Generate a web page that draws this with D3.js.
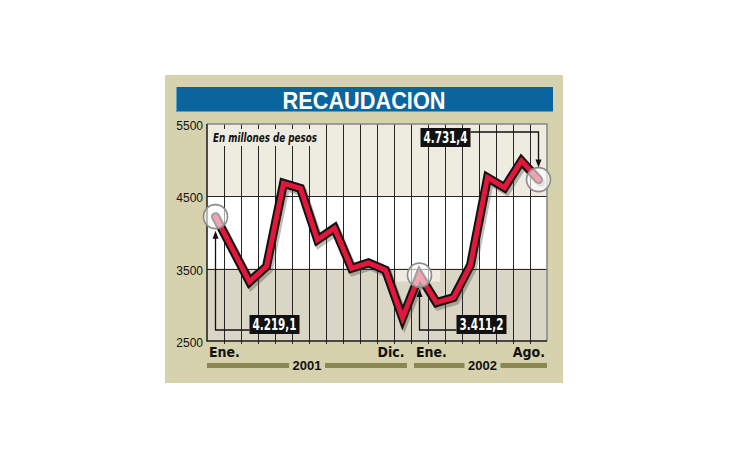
<!DOCTYPE html>
<html>
<head>
<meta charset="utf-8">
<script src="https://cdn.jsdelivr.net/npm/d3@7"></script>
<style>
  body { margin: 0; background: #fff }
  svg { display: block }
</style>
</head>
<body>
<svg width="730" height="460"></svg>
<script>
// monthly collection, millions of pesos, Jan 2001 - Aug 2002
var months = ['Ene.', 'Feb.', 'Mar.', 'Abr.', 'May.', 'Jun.', 'Jul.', 'Ago.', 'Sep.', 'Oct.', 'Nov.', 'Dic.',
  'Ene.', 'Feb.', 'Mar.', 'Abr.', 'May.', 'Jun.', 'Jul.', 'Ago.']
var values = [4219.1, 3770, 3320, 3530, 4680, 4610, 3900, 4060, 3505, 3580, 3480, 2820,
  3411.2, 3030, 3100, 3550, 4760, 4620, 4990, 4731.4]
var years = ['2001', '2002']
var yearFirst = [0, 12]
var yearLast = [11, 19]
var shownMonths = [0, 11, 12, 19]
var yTicks = [2500, 3500, 4500, 5500]
var highlights = [0, 12, 19]
var highlightLabels = ['4.219,1', '3.411,2', '4.731,4']

var narrow = "'Liberation Sans Narrow', 'DejaVu Sans Condensed', sans-serif"
var plain = "'Liberation Sans', Arial, sans-serif"

var plot = {left: 207, right: 547, top: 124, bottom: 341}

var x = d3.scaleBand().domain(d3.range(values.length)).range([plot.left, plot.right]).padding(0)
var y = d3.scaleLinear().domain([2500, 5500]).range([plot.bottom, plot.top])
var bw = x.bandwidth()
function px(i) { return x(i) + bw / 2 }

var svg = d3.select('svg')

// panel + title
svg.append('rect').attr('x', 165).attr('y', 75).attr('width', 398).attr('height', 308).attr('fill', '#d6d2ae')
svg.append('rect').attr('x', 176).attr('y', 87).attr('width', 377).attr('height', 25).attr('fill', '#5d9ec4')
svg.append('rect').attr('x', 177).attr('y', 87).attr('width', 376).attr('height', 24).attr('fill', '#0a649d')
svg.append('text')
  .attr('x', 364).attr('y', 108.5)
  .attr('text-anchor', 'middle')
  .attr('font-family', plain).attr('font-weight', 'bold').attr('font-size', 24)
  .attr('textLength', 163).attr('lengthAdjust', 'spacingAndGlyphs')
  .attr('fill', '#fff')
  .text('RECAUDACION')

// background bands
var bands = [[5500, 4500, '#eeebe0'], [4500, 3500, '#ffffff'], [3500, 2500, '#d9d6c5']]
svg.selectAll('.band')
  .data(bands)
  .enter()
  .append('rect')
  .attr('class', 'band')
  .attr('x', plot.left)
  .attr('y', function (d) { return y(d[0]) })
  .attr('width', plot.right - plot.left)
  .attr('height', function (d) { return y(d[1]) - y(d[0]) })
  .attr('fill', function (d) { return d[2] })

// light patch behind the Jan 2002 marker
svg.append('rect')
  .attr('x', x(11) + 2).attr('y', y(3500))
  .attr('width', bw * 2 + 10).attr('height', 13)
  .attr('fill', '#eeebe0')

// vertical grid
var grid = svg.append('g').attr('stroke', '#262626').attr('stroke-width', 1)
grid.selectAll('line.v')
  .data(d3.range(1, values.length))
  .enter()
  .append('line')
  .attr('class', 'v')
  .attr('x1', function (i) { return x(i) + 0.5 }).attr('x2', function (i) { return x(i) + 0.5 })
  .attr('y1', plot.top).attr('y2', plot.bottom + 3)

grid.selectAll('line.h')
  .data([3500, 4500])
  .enter()
  .append('line')
  .attr('class', 'h')
  .attr('x1', plot.left).attr('x2', plot.right)
  .attr('y1', function (d) { return Math.round(y(d)) + 0.5 })
  .attr('y2', function (d) { return Math.round(y(d)) + 0.5 })

// frame
svg.append('path')
  .attr('d', 'M' + plot.left + ',' + plot.top + 'H' + plot.right + 'V' + plot.bottom)
  .attr('fill', 'none').attr('stroke', '#858585').attr('stroke-width', 1.5)
svg.append('path')
  .attr('d', 'M' + plot.left + ',' + plot.top + 'V' + plot.bottom + 'H' + plot.right)
  .attr('fill', 'none').attr('stroke', '#1a1a1a').attr('stroke-width', 1.5)

// unit note
svg.append('rect')
  .attr('x', 211).attr('y', 129).attr('width', 110).attr('height', 17)
  .attr('fill', '#eeebe0')
svg.append('text')
  .attr('x', 213).attr('y', 142)
  .attr('font-family', narrow).attr('font-weight', 'bold').attr('font-style', 'italic').attr('font-size', 12.5)
  .attr('textLength', 104).attr('lengthAdjust', 'spacingAndGlyphs')
  .attr('fill', '#111')
  .text('En millones de pesos')

// y tick labels
svg.selectAll('.ytick')
  .data(yTicks)
  .enter()
  .append('text')
  .attr('class', 'ytick')
  .attr('x', 203)
  .attr('y', function (d) { return y(d) + 6 })
  .attr('text-anchor', 'end')
  .attr('font-family', plain).attr('font-size', 12)
  .attr('fill', '#111')
  .text(function (d) { return d })

// month labels
var monthPos = {
  0: ['start', function (i) { return x(i) + 2 }],
  11: ['end', function (i) { return px(i) + 2 }],
  12: ['start', function (i) { return x(i) + 5 }],
  19: ['end', function (i) { return x(i) + bw - 2 }]
}
svg.selectAll('.month')
  .data(shownMonths)
  .enter()
  .append('text')
  .attr('class', 'month')
  .attr('x', function (i) { return monthPos[i][1](i) })
  .attr('y', 357)
  .attr('text-anchor', function (i) { return monthPos[i][0] })
  .attr('font-family', narrow).attr('font-weight', 'bold').attr('font-size', 14)
  .attr('fill', '#111')
  .text(function (i) { return months[i] })

// year rules
years.forEach(function (yr, k) {
  var left = x(yearFirst[k]) + (k === 0 ? 0 : 3)
  var right = x(yearLast[k]) + bw - (k === 0 ? 4 : 0)
  var mid = (left + right) / 2 + (k === 0 ? 0 : 2)
  var g = svg.append('g')
  g.append('rect').attr('x', left).attr('y', 363).attr('width', mid - 18 - left).attr('height', 5).attr('fill', '#8a8752')
  g.append('rect').attr('x', mid + 18).attr('y', 363).attr('width', right - mid - 18).attr('height', 5).attr('fill', '#8a8752')
  g.append('text')
    .attr('x', mid).attr('y', 370)
    .attr('text-anchor', 'middle')
    .attr('font-family', plain).attr('font-weight', 'bold').attr('font-size', 13)
    .attr('fill', '#111')
    .text(yr)
})

// callout connectors
var callouts = highlights.map(function (i, k) {
  var cx = px(i), cy = y(values[i])
  if (k < 2) {
    var bx = cx + (k === 0 ? 34 : 37)
    return {i: i, label: highlightLabels[k], bx: bx, by: 315, ly: 330, path: 'M' + bx + ',330H' + cx + 'V' + (cy + 18), tip: cy + 14, up: true}
  }
  var bxr = cx - 68
  return {i: i, label: highlightLabels[k], bx: bxr - 50, by: 128, ly: 132, path: 'M' + bxr + ',132H' + cx + 'V' + (cy - 16), tip: cy - 12, up: false}
})

svg.selectAll('.conn')
  .data(callouts)
  .enter()
  .append('path')
  .attr('class', 'conn')
  .attr('d', function (d) { return d.path })
  .attr('fill', 'none').attr('stroke', '#111').attr('stroke-width', 1.3)

// the line
var line = d3.line()
  .x(function (d, i) { return px(i) })
  .y(function (d) { return y(d) })

svg.append('path')
  .datum(values)
  .attr('d', line)
  .attr('transform', 'translate(2,3)')
  .attr('fill', 'none').attr('stroke', 'rgba(70,70,60,0.35)').attr('stroke-width', 9)
  .attr('stroke-linejoin', 'miter').attr('stroke-linecap', 'round')
svg.append('path')
  .datum(values)
  .attr('d', line)
  .attr('fill', 'none').attr('stroke', '#111').attr('stroke-width', 9)
  .attr('stroke-linejoin', 'miter').attr('stroke-linecap', 'round')
svg.append('path')
  .datum(values)
  .attr('d', line)
  .attr('fill', 'none').attr('stroke', '#e2173b').attr('stroke-width', 5)
  .attr('stroke-linejoin', 'miter').attr('stroke-linecap', 'round')

// highlight circles
svg.selectAll('.hl')
  .data(highlights)
  .enter()
  .append('circle')
  .attr('class', 'hl')
  .attr('cx', function (i) { return px(i) })
  .attr('cy', function (i) { return y(values[i]) })
  .attr('r', 12)
  .attr('fill', 'rgba(255,255,255,0.6)')
  .attr('stroke', '#8c8c8c').attr('stroke-width', 1.6)

// arrow heads
svg.selectAll('.tip')
  .data(callouts)
  .enter()
  .append('path')
  .attr('class', 'tip')
  .attr('d', function (d) {
    var cx = px(d.i), t = d.tip, s = d.up ? 1 : -1
    return 'M' + cx + ',' + t + 'L' + (cx - 3) + ',' + (t + s * 8) + 'L' + (cx + 3) + ',' + (t + s * 8) + 'Z'
  })
  .attr('fill', '#111')

// value boxes
var boxes = svg.selectAll('.box')
  .data(callouts)
  .enter()
  .append('g')
  .attr('class', 'box')
boxes.append('rect')
  .attr('x', function (d) { return d.bx }).attr('y', function (d) { return d.by })
  .attr('width', 50).attr('height', 19)
  .attr('fill', '#111')
boxes.append('text')
  .attr('x', function (d) { return d.bx + 25 }).attr('y', function (d) { return d.by + 15 })
  .attr('text-anchor', 'middle')
  .attr('font-family', narrow).attr('font-weight', 'bold').attr('font-size', 16)
  .attr('textLength', 44).attr('lengthAdjust', 'spacingAndGlyphs')
  .attr('fill', '#fff')
  .text(function (d) { return d.label })
</script>
</body>
</html>
